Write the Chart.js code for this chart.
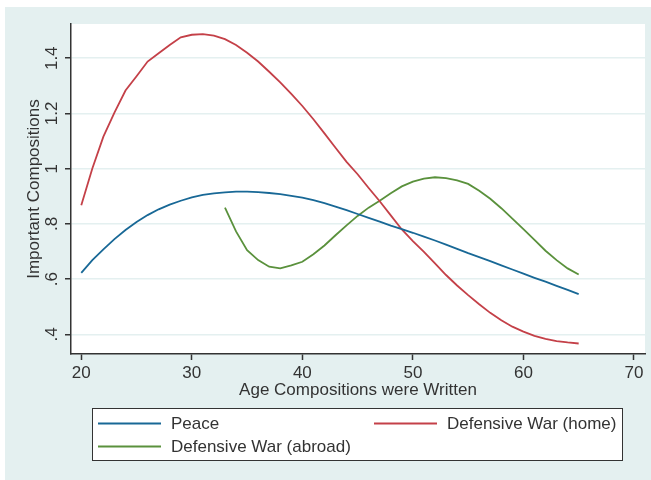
<!DOCTYPE html>
<html lang="en">
<head>
    <meta charset="UTF-8">
    <title>Important Compositions by Age</title>
    <script src="https://cdn.jsdelivr.net/npm/chart.js"></script>
    <style>
        body { margin: 0; background: #fff; }
        #chart { display: block; }
    </style>
</head>
<body>
    <canvas id="chart" width="651" height="480"></canvas>

    <script>
        // Ages 20..65, one value per year
        const ages = [20, 21, 22, 23, 24, 25, 26, 27, 28, 29, 30, 31, 32, 33, 34, 35, 36, 37, 38, 39,
                      40, 41, 42, 43, 44, 45, 46, 47, 48, 49, 50, 51, 52, 53, 54, 55, 56, 57, 58, 59,
                      60, 61, 62, 63, 64, 65];

        const peace = [0.623, 0.669, 0.708, 0.745, 0.778, 0.807, 0.832, 0.853, 0.870, 0.884,
                       0.896, 0.905, 0.911, 0.914, 0.917, 0.917, 0.915, 0.912, 0.908, 0.902,
                       0.895, 0.886, 0.875, 0.863, 0.850, 0.836, 0.822, 0.808, 0.794, 0.781,
                       0.768, 0.754, 0.740, 0.725, 0.710, 0.694, 0.680, 0.665, 0.650, 0.635,
                       0.620, 0.605, 0.591, 0.576, 0.561, 0.546];

        const warHome = [0.868, 1.001, 1.116, 1.203, 1.283, 1.335, 1.388, 1.418, 1.448, 1.476,
                         1.485, 1.487, 1.482, 1.469, 1.448, 1.420, 1.388, 1.351, 1.313, 1.271,
                         1.227, 1.179, 1.128, 1.076, 1.025, 0.980, 0.930, 0.882, 0.831, 0.780,
                         0.738, 0.699, 0.657, 0.615, 0.577, 0.542, 0.509, 0.478, 0.451, 0.428,
                         0.410, 0.395, 0.384, 0.376, 0.371, 0.367];

        // abroad series starts at age 33
        const warAbroad = [null, null, null, null, null, null, null, null, null, null,
                           null, null, null, 0.859, 0.773, 0.705, 0.669, 0.645, 0.639, 0.650,
                           0.663, 0.690, 0.722, 0.759, 0.795, 0.829, 0.859, 0.884, 0.911, 0.936,
                           0.953, 0.964, 0.969, 0.966, 0.958, 0.945, 0.920, 0.891, 0.857, 0.819,
                           0.781, 0.742, 0.703, 0.669, 0.639, 0.617];

        const seriesNames = ['Peace', 'Defensive War (home)', 'Defensive War (abroad)'];
        const xTicks = [20, 30, 40, 50, 60, 70];
        const yTicks = [0.4, 0.6, 0.8, 1, 1.2, 1.4];

        const colors = ['rgb(24,104,150)', 'rgb(196,64,72)', 'rgb(90,145,60)'];
        const textColor = '#333';
        const tealBg = '#e4f0f0';
        const fontFamily = '"Liberation Sans", Arial, sans-serif';

        function toPoints(values) {
            return ages.map((a, i) => ({ x: a, y: values[i] }));
        }

        // strip the leading zero like ".8"
        function fmtY(v) {
            let s = String(Math.round(v * 10) / 10);
            if (s.startsWith('0.')) s = s.slice(1);
            return s;
        }

        // background, outer teal frame and white plot region
        const backdrop = {
            id: 'backdrop',
            beforeDraw(chart) {
                const ctx = chart.ctx;
                const a = chart.chartArea;
                ctx.save();
                ctx.fillStyle = '#fff';
                ctx.fillRect(0, 0, chart.width, chart.height);
                ctx.fillStyle = tealBg;
                ctx.fillRect(5, 7, chart.width - 5, chart.height - 7);
                ctx.fillStyle = '#fff';
                ctx.fillRect(a.left, a.top, a.right - a.left, a.bottom - a.top);
                ctx.restore();
            }
        };

        // rotated y labels, axis titles and the boxed legend
        const decorations = {
            id: 'decorations',
            afterDraw(chart) {
                const ctx = chart.ctx;
                const a = chart.chartArea;
                const ys = chart.scales.y;
                ctx.save();
                ctx.fillStyle = textColor;
                ctx.font = '17px ' + fontFamily;
                ctx.textAlign = 'center';
                ctx.textBaseline = 'middle';

                // y tick labels, vertical
                ys.ticks.forEach(t => {
                    const py = ys.getPixelForValue(t.value);
                    ctx.save();
                    ctx.translate(52, py);
                    ctx.rotate(-Math.PI / 2);
                    ctx.fillText(t.label, 0, 0);
                    ctx.restore();
                });

                // y title
                ctx.save();
                ctx.translate(34, (a.top + a.bottom) / 2);
                ctx.rotate(-Math.PI / 2);
                ctx.fillText('Important Compositions', 0, 0);
                ctx.restore();

                // x title
                ctx.fillText('Age Compositions were Written', (a.left + a.right) / 2, 390);

                // legend
                ctx.fillStyle = '#fff';
                ctx.fillRect(92, 408, 531, 53);
                ctx.strokeStyle = '#333';
                ctx.lineWidth = 1;
                ctx.strokeRect(92.5, 408.5, 530, 52);
                ctx.textAlign = 'left';
                chart.data.datasets.forEach((ds, i) => {
                    const col = i % 2;
                    const row = Math.floor(i / 2);
                    const x0 = col === 0 ? 98 : 374;
                    const y0 = 423.5 + row * 23;
                    ctx.strokeStyle = ds.borderColor;
                    ctx.lineWidth = 1.8;
                    ctx.beginPath();
                    ctx.moveTo(x0, y0);
                    ctx.lineTo(x0 + 63, y0);
                    ctx.stroke();
                    ctx.fillStyle = textColor;
                    ctx.fillText(ds.label, x0 + 73, y0 + 1);
                });
                ctx.restore();
            }
        };

        const ctx = document.getElementById('chart').getContext('2d');
        const chart = new Chart(ctx, {
            type: 'line',
            data: {
                datasets: [
                    { label: seriesNames[0], data: toPoints(peace), borderColor: colors[0] },
                    { label: seriesNames[1], data: toPoints(warHome), borderColor: colors[1] },
                    { label: seriesNames[2], data: toPoints(warAbroad), borderColor: colors[2] }
                ]
            },
            options: {
                responsive: false,
                animation: false,
                layout: { padding: { left: 0, top: 24, right: 6, bottom: 0 } },
                elements: {
                    point: { radius: 0 },
                    line: { borderWidth: 1.8, tension: 0, fill: false }
                },
                plugins: {
                    legend: { display: false },
                    tooltip: { enabled: false }
                },
                scales: {
                    x: {
                        type: 'linear',
                        min: 19.07,
                        max: 71,
                        afterFit(scale) {
                            scale.height = 126;
                            scale.paddingLeft = 0;
                            scale.paddingRight = 0;
                        },
                        afterBuildTicks(scale) {
                            scale.ticks = xTicks.map(v => ({ value: v }));
                        },
                        grid: {
                            drawOnChartArea: false,
                            drawTicks: true,
                            tickLength: 6,
                            tickColor: '#333',
                            tickWidth: 1.5
                        },
                        border: { display: true, color: '#333', width: 1.5 },
                        ticks: {
                            color: textColor,
                            padding: 3,
                            maxRotation: 0,
                            font: { size: 17, family: fontFamily }
                        }
                    },
                    y: {
                        type: 'linear',
                        min: 0.329,
                        max: 1.524,
                        afterFit(scale) {
                            scale.width = 71;
                            scale.paddingTop = 0;
                            scale.paddingBottom = 0;
                        },
                        afterBuildTicks(scale) {
                            scale.ticks = yTicks.map(v => ({ value: v }));
                        },
                        grid: {
                            color: tealBg,
                            lineWidth: 1.5,
                            drawTicks: true,
                            tickLength: 6,
                            tickColor: '#333',
                            tickWidth: 1.5
                        },
                        border: { display: true, color: '#333', width: 1.5 },
                        ticks: {
                            color: 'transparent',
                            callback: v => fmtY(v),
                            font: { size: 17, family: fontFamily }
                        }
                    }
                }
            },
            plugins: [backdrop, decorations]
        });
    </script>
</body>
</html>
